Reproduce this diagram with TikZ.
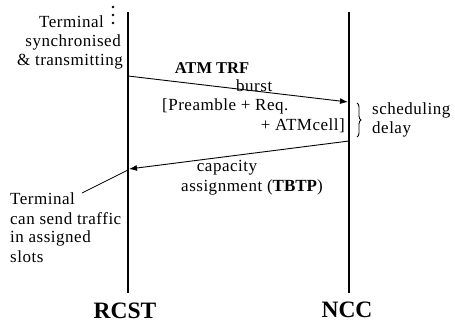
\documentclass[tikz,border=0pt]{standalone}
\usepackage{fontspec}
\setmainfont{Liberation Serif}
\newfontfamily\spfont{Liberation Serif}[LetterSpace=3]
\usetikzlibrary{arrows.meta,decorations.pathreplacing}
\begin{document}
\begin{tikzpicture}[x=1pt,y=-1pt,
  life/.style={line width=2pt},
  msg/.style={line width=0.9pt,-{Latex[length=8pt,width=6pt]}},
  txt/.style={font=\spfont\fontsize{17}{19.5}\selectfont,inner sep=0pt},
  bld/.style={font=\rmfamily\bfseries\fontsize{16.5}{19}\selectfont,inner sep=0pt},
  head/.style={font=\rmfamily\bfseries\fontsize{23.5}{26}\selectfont,inner sep=0pt}]
\useasboundingbox (0,0) rectangle (455,323);
% lifelines
\coordinate (r0) at (128,12); \coordinate (r1) at (128,293);
\coordinate (n0) at (349,12); \coordinate (n1) at (349,293);
\draw[life] (r0) -- (r1);
\draw[life] (n0) -- (n1);
\node[head] (rcst) at (125,311) {RCST};
\node[head] (ncc) at (347,310) {NCC};
% dots
\fill (113,7) circle (1.4); \fill (113,15) circle (1.4); \fill (113,23) circle (1.4);
% top-left text
\node[txt,anchor=east] (t1) at (104,22) {Terminal};
\node[txt,anchor=east] (t2) at (121,42) {synchronised};
\node[txt,anchor=east] (t3) at (123,62) {\& transmitting};
% burst message
\coordinate (a1s) at (128,76); \coordinate (a1e) at (348,102);
\draw[msg] (a1s) -- (a1e);
\node[bld] (atm) at (212,68) {ATM TRF};
\node[txt,anchor=west] (burst) at (236,86) {burst};
\node[txt,anchor=west] (pre) at (162,106) {[Preamble + Req.};
\node[txt,anchor=east] (cell) at (345,126) {+ ATMcell]};
% scheduling delay
\draw[line width=0.9pt,decorate,decoration={brace,amplitude=4pt}] (357,103) -- (357,137);
\node[txt,anchor=west] (sch) at (372,110) {scheduling};
\node[txt,anchor=west] (del) at (372,129) {delay};
% capacity assignment
\coordinate (a2s) at (349,141); \coordinate (a2e) at (129,169);
\draw[msg] (a2s) -- (a2e);
\node[txt] (cap) at (227,168) {capacity};
\node[txt] (ass) at (252,187) {assignment ({\rmfamily\bfseries TBTP})};
% bottom-left text
\node[txt,anchor=west] (b1) at (10,199) {Terminal};
\node[txt,anchor=west] (b2) at (10,219) {can send traffic};
\node[txt,anchor=west] (b3) at (10,238) {in assigned};
\node[txt,anchor=west] (b4) at (10,257) {slots};
\coordinate (lds) at (82,193); \coordinate (lde) at (128,170);
\draw[line width=0.7pt] (lds) -- (lde);
\end{tikzpicture}
\end{document}
